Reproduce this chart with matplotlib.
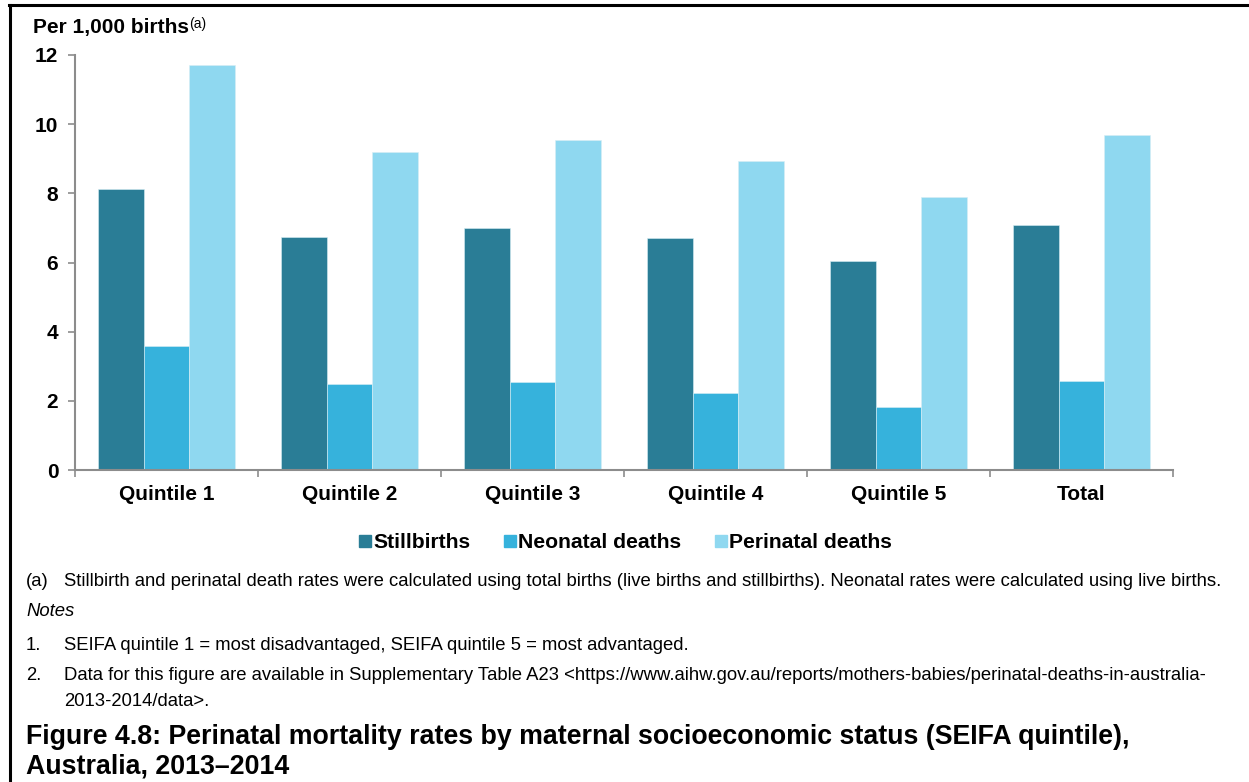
import matplotlib
matplotlib.use("Agg")
import matplotlib.pyplot as plt
from matplotlib.lines import Line2D
import numpy as np

categories = ["Quintile 1", "Quintile 2", "Quintile 3", "Quintile 4", "Quintile 5", "Total"]
stillbirths = [8.12, 6.73, 7.00, 6.71, 6.04, 7.09]
neonatal = [3.59, 2.48, 2.54, 2.22, 1.83, 2.58]
perinatal = [11.71, 9.19, 9.54, 8.94, 7.88, 9.69]
series_names = ["Stillbirths", "Neonatal deaths", "Perinatal deaths"]
colors = ["#2A7D96", "#36B2DC", "#8FD8F0"]
yticks = [0, 2, 4, 6, 8, 10, 12]

FONT = "Liberation Sans"
plt.rcParams["font.family"] = [FONT, "DejaVu Sans"]

W, H = 1249, 782
fig = plt.figure(figsize=(W / 100, H / 100), dpi=100)

def fx(px):
    return px / W

def fy(py):
    return 1 - py / H

ax = fig.add_axes([fx(75), fy(470), fx(1173) - fx(75), fy(55) - fy(470)])

x = np.arange(len(categories))
bw = 0.25
for i, (vals, c) in enumerate(zip([stillbirths, neonatal, perinatal], colors)):
    ax.bar(x + (i - 1) * bw, vals, width=bw, color=c, edgecolor="#d8eef5",
           linewidth=0.4, zorder=2)

AXFS = 15
ax.set_xlim(-0.5, len(categories) - 0.5)
ax.set_ylim(0, 12)
ax.set_yticks(yticks)
ax.set_yticklabels([str(t) for t in yticks], fontsize=AXFS, fontweight="bold")
ax.set_xticks(np.arange(-0.5, len(categories)))
ax.set_xticklabels([])
ax.set_xticks(x, minor=True)
ax.set_xticklabels(categories, minor=True, fontsize=AXFS, fontweight="bold")

for s in ["top", "right"]:
    ax.spines[s].set_visible(False)
for s in ["left", "bottom"]:
    ax.spines[s].set_color("#8c8c8c")
    ax.spines[s].set_linewidth(1.5)
ax.tick_params(axis="y", which="major", direction="out", length=5, width=1.2,
               color="#8c8c8c", pad=7)
ax.tick_params(axis="x", which="major", direction="out", length=5, width=1.2,
               color="#8c8c8c")
ax.tick_params(axis="x", which="minor", length=0, pad=11)

# y-axis title with superscript
t = fig.text(fx(33), fy(28), "Per 1,000 births", fontsize=AXFS, fontweight="bold",
             ha="left", va="center")
fig.canvas.draw()
bb = t.get_window_extent()
fig.text(bb.x1 / W + 0.0005, fy(24), "(a)", fontsize=10, ha="left", va="center")

# legend
handles = [Line2D([], [], marker="s", linestyle="none", markersize=8,
                  markerfacecolor=c, markeredgecolor=c) for c in colors]
leg = fig.legend(handles, series_names, loc="center", bbox_to_anchor=(fx(625), fy(543)),
                 ncol=3, frameon=False, handletextpad=0.05, columnspacing=1.5,
                 handlelength=0.7, prop={"family": FONT, "weight": "bold", "size": 15.2})

# footnotes
fs = 13.3
fig.text(fx(26), fy(581), "(a)", fontsize=fs, ha="left", va="center")
fig.text(fx(64), fy(581), "Stillbirth and perinatal death rates were calculated using total births "
         "(live births and stillbirths). Neonatal rates were calculated using live births.",
         fontsize=fs, ha="left", va="center")
fig.text(fx(26), fy(612), "Notes", fontsize=fs, style="italic", ha="left", va="center")
fig.text(fx(26), fy(645), "1.", fontsize=fs, ha="left", va="center")
fig.text(fx(64), fy(645), "SEIFA quintile 1 = most disadvantaged, SEIFA quintile 5 = most advantaged.",
         fontsize=fs, ha="left", va="center")
fig.text(fx(26), fy(676), "2.", fontsize=fs, ha="left", va="center")
fig.text(fx(64), fy(676), "Data for this figure are available in Supplementary Table A23 "
         "<https://www.aihw.gov.au/reports/mothers-babies/perinatal-deaths-in-australia-",
         fontsize=fs, ha="left", va="center")
fig.text(fx(64), fy(701), "2013-2014/data>.", fontsize=fs, ha="left", va="center")

fig.text(fx(26), fy(737), "Figure 4.8: Perinatal mortality rates by maternal socioeconomic status (SEIFA quintile),",
         fontsize=19.3, fontweight="bold", ha="left", va="center")
fig.text(fx(26), fy(767), "Australia, 2013\u20132014", fontsize=19.3, fontweight="bold",
         ha="left", va="center")

# border lines
fig.add_artist(Line2D([fx(10), fx(10)], [0, fy(5)], color="black", linewidth=2.2,
                      transform=fig.transFigure))
fig.add_artist(Line2D([fx(9), 1], [fy(5), fy(5)], color="black", linewidth=2.2,
                      transform=fig.transFigure))

fig.savefig("out.png", dpi=100)
